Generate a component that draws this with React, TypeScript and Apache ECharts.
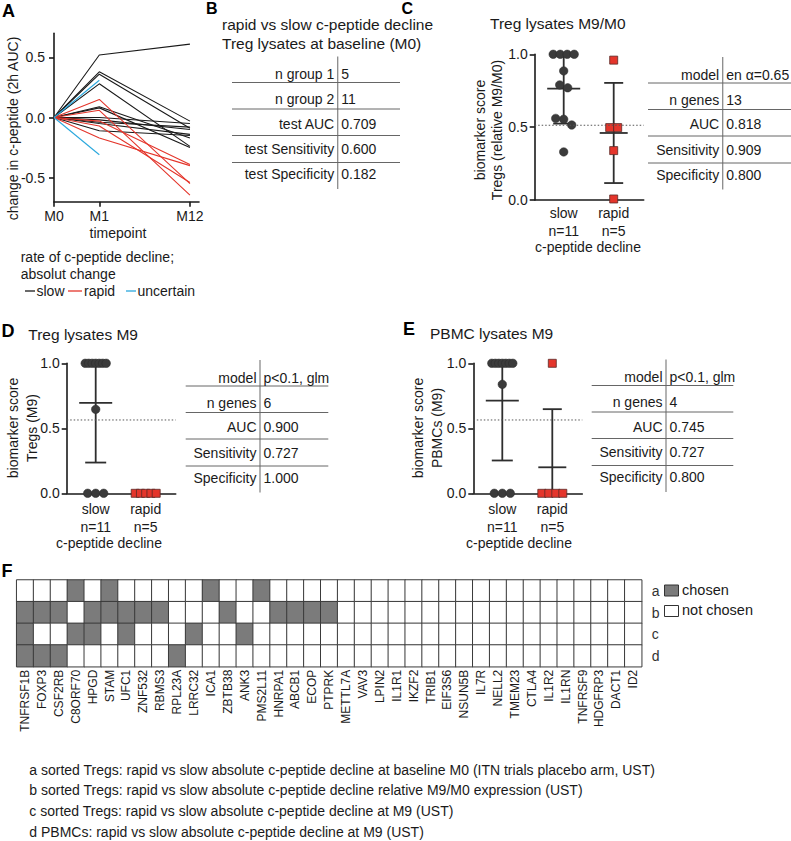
import React, { useEffect, useRef } from 'react';
import * as echarts from 'echarts';

const FONT = '"Liberation Sans", Arial, Helvetica, sans-serif';

// ---------- Panel A data ----------
const timepointLabels = ['M0', 'M1', 'M12'];
const timepointPos = [0, 1, 3];
const slowM1 = [0.52, 0.38, 0.36, 0.28, 0.09, 0.08, 0.0, -0.02, -0.04, -0.05, -0.11];
const slowM12 = [0.61, -0.03, -0.09, -0.24, -0.17, -0.25, -0.05, -0.1, -0.08, -0.14, -0.15];
const rapidM1 = [0.15, 0.06, -0.03, -0.07, -0.17];
const rapidM12 = [-0.55, -0.645, -0.39, -0.54, -0.4];
const uncertainM1 = [0.31, -0.31];
const aYTicks = [-0.5, 0, 0.5];

// ---------- Panels C, D, E data ----------
const groupLabels = ['slow\nn=11', 'rapid\nn=5'];
const scoreTicks = [0, 0.5, 1];
const cSlow = [1, 1, 1, 1, 0.886, 0.79, 0.77, 0.56, 0.554, 0.515, 0.33];
const cRapid = [0.96, 0.497, 0.497, 0.339, 0.007];
const cCutoff = 0.513;
const dSlow = [1, 1, 1, 1, 1, 1, 1, 0.646, 0, 0, 0];
const dRapid = [0, 0, 0, 0, 0];
const dCutoff = 0.564;
const eSlow = [1, 1, 1, 1, 1, 1, 1, 0.838, 0, 0, 0];
const eRapid = [1, 0, 0, 0, 0];
const eCutoff = 0.564;

// ---------- Tables ----------
const tableBLabels = ['n group 1', 'n group 2', 'test AUC', 'test Sensitivity', 'test Specificity'];
const tableBValues = ['5', '11', '0.709', '0.600', '0.182'];
const metricLabels = ['model', 'n genes', 'AUC', 'Sensitivity', 'Specificity'];
const tableCValues = ['en α=0.65', '13', '0.818', '0.909', '0.800'];
const tableDValues = ['p<0.1, glm', '6', '0.900', '0.727', '1.000'];
const tableEValues = ['p<0.1, glm', '4', '0.745', '0.727', '0.800'];

// ---------- Panel F data ----------
const genes = ['TNFRSF1B', 'FOXP3', 'CSF2RB', 'C8ORF70', 'HPGD', 'STAM', 'UFC1', 'ZNF532', 'RBMS3', 'RPL23A', 'LRRC32', 'ICA1', 'ZBTB38', 'ANK3', 'PMS2L11', 'HNRPA1', 'ABCB1', 'ECOP', 'PTPRK', 'METTL7A', 'VAV3', 'LPIN2', 'IL1R1', 'IKZF2', 'TRIB1', 'EIF3S6', 'NSUN5B', 'IL7R', 'NELL2', 'TMEM23', 'CTLA4', 'IL1R2', 'IL1RN', 'TNFRSF9', 'HDGFRP3', 'DACT1', 'ID2'];
const rowKeys = ['a', 'b', 'c', 'd'];
const chosenA = ['C8ORF70', 'STAM', 'ICA1', 'PMS2L11'];
const chosenB = ['TNFRSF1B', 'FOXP3', 'CSF2RB', 'HPGD', 'STAM', 'UFC1', 'ZNF532', 'RBMS3', 'ZBTB38', 'HNRPA1', 'ABCB1', 'ECOP', 'PTPRK'];
const chosenC = ['TNFRSF1B', 'C8ORF70', 'HPGD', 'UFC1', 'LRRC32', 'ANK3'];
const chosenD = ['TNFRSF1B', 'FOXP3', 'CSF2RB', 'RPL23A'];
const legendLabels = ['chosen', 'not chosen'];
const rowDescriptions = [
  'a sorted Tregs: rapid vs slow absolute c-peptide decline at baseline M0 (ITN trials placebo arm, UST)',
  'b sorted Tregs: rapid vs slow absolute c-peptide decline relative M9/M0 expression (UST)',
  'c sorted Tregs: rapid vs slow absolute c-peptide decline at M9 (UST)',
  'd PBMCs: rapid vs slow absolute c-peptide decline at M9 (UST)',
];

// ---------- helpers ----------
const INK = '#1a1a1a';
const RED = '#e4352b';
const BLUE = '#2aa8dd';
const GREY_FILL = '#7b7b7b';

function mean(a: number[]) {
  return a.reduce((s, v) => s + v, 0) / a.length;
}
function sd(a: number[]) {
  const m = mean(a);
  return Math.sqrt(a.reduce((s, v) => s + (v - m) * (v - m), 0) / (a.length - 1));
}

// simple beeswarm: cluster overlapping points and spread them symmetrically
function swarm(values: number[], center: number, pxY: number, pxX: number) {
  const D = 8;
  const MAXW = 21;
  const idx = values.map((_, i) => i).sort((a, b) => values[b] - values[a]);
  const out: number[][] = [];
  let i = 0;
  while (i < idx.length) {
    const start = values[idx[i]];
    let j = i;
    while (j + 1 < idx.length && (start - values[idx[j + 1]]) * pxY < D) j++;
    const n = j - i + 1;
    const s = n > 1 ? Math.min(D, MAXW / (n - 1)) : 0;
    for (let k = 0; k < n; k++) {
      out.push([center + ((k - (n - 1) / 2) * s) / pxX, values[idx[i + k]]]);
    }
    i = j + 1;
  }
  return out;
}

function txt(text: string, x: number, y: number, o: any = {}) {
  return {
    type: 'text',
    x,
    y,
    rotation: o.rot || 0,
    silent: true,
    style: {
      text,
      x: 0,
      y: 0,
      fontSize: o.size || 14,
      fontFamily: FONT,
      fontWeight: o.weight || 'normal',
      fill: o.color || INK,
      align: o.align || 'left',
      textAlign: o.align || 'left',
      verticalAlign: 'middle',
      textVerticalAlign: 'middle',
    },
  };
}
function ln(x1: number, y1: number, x2: number, y2: number, color: string, w = 1) {
  return { type: 'line', silent: true, shape: { x1, y1, x2, y2 }, style: { stroke: color, lineWidth: w } };
}

function table(labels: string[], values: string[], x0: number, x1: number, xv: number, top: number) {
  const els: any[] = [];
  const lineOff = [26, 52.5, 79, 106];
  const textOff = [17.7, 42.5, 67, 92.7, 117.5];
  els.push(ln(xv, top, xv, top + 132.5, '#8a8a8a', 1.3));
  lineOff.forEach((o) => els.push(ln(x0, top + o, x1, top + o, '#666', 1)));
  labels.forEach((l, i) => {
    els.push(txt(l, xv - 3.5, top + textOff[i], { align: 'right' }));
    els.push(txt(values[i], xv + 3.5, top + textOff[i], { align: 'left' }));
  });
  return els;
}

function buildOption() {
  const grids: any[] = [
    { left: 54, top: 33.3, width: 145, height: 168.4 }, // A
    { left: 534.7, top: 54.3, width: 109, height: 145.7 }, // C
    { left: 66.7, top: 363.3, width: 109, height: 130 }, // D
    { left: 473.3, top: 363.3, width: 109, height: 130 }, // E
    { left: 16.7, top: 580, width: 625, height: 86.7 }, // F
  ].map((g) => ({ ...g, containLabel: false, outerBoundsMode: 'none' }));

  const axisLineStyle = { color: INK, width: 1.6 };
  const labelBase = { fontSize: 14, fontFamily: FONT, color: INK };

  const xAxes: any[] = [];
  const yAxes: any[] = [];

  // Panel A axes
  xAxes.push({
    gridIndex: 0,
    type: 'value',
    min: 0,
    max: 3.2,
    axisLine: { show: true, onZero: false, lineStyle: axisLineStyle },
    axisTick: { show: true, customValues: timepointPos, length: 5, lineStyle: axisLineStyle },
    axisLabel: {
      ...labelBase,
      customValues: timepointPos,
      margin: 7,
      formatter: (v: number) => timepointLabels[timepointPos.indexOf(v)] ?? '',
    },
    splitLine: { show: false },
  });
  yAxes.push({
    gridIndex: 0,
    type: 'value',
    min: -0.7,
    max: 0.7,
    axisLine: { show: true, onZero: false, lineStyle: axisLineStyle },
    axisTick: { show: true, customValues: aYTicks, length: 5, lineStyle: axisLineStyle },
    axisLabel: { ...labelBase, customValues: aYTicks, margin: 9, formatter: (v: number) => v.toFixed(1) },
    splitLine: { show: false },
  });

  // Panels C, D, E axes
  for (let g = 1; g <= 3; g++) {
    xAxes.push({
      gridIndex: g,
      type: 'value',
      min: 0.42,
      max: 2.6,
      axisLine: { show: true, onZero: false, lineStyle: axisLineStyle },
      axisTick: { show: false },
      axisLabel: {
        ...labelBase,
        customValues: [1, 2],
        margin: g === 1 ? 4 : 7,
        lineHeight: 18,
        formatter: (v: number) => groupLabels[Math.round(v) - 1] ?? '',
      },
      splitLine: { show: false },
    });
    yAxes.push({
      gridIndex: g,
      type: 'value',
      min: 0,
      max: 1,
      axisLine: { show: true, onZero: false, lineStyle: axisLineStyle },
      axisTick: { show: true, customValues: scoreTicks, length: 5, lineStyle: axisLineStyle },
      axisLabel: { ...labelBase, customValues: scoreTicks, margin: 7, formatter: (v: number) => v.toFixed(1) },
      splitLine: { show: false },
    });
  }

  // Panel F axes
  xAxes.push({
    gridIndex: 4,
    type: 'category',
    data: genes,
    axisLine: { show: false },
    axisTick: { show: false },
    axisLabel: { fontSize: 12, fontFamily: FONT, color: INK, rotate: 90, interval: 0, margin: 3 },
    splitLine: { show: false },
  });
  yAxes.push({
    gridIndex: 4,
    type: 'category',
    data: rowKeys,
    inverse: true,
    position: 'right',
    axisLine: { show: false },
    axisTick: { show: false },
    axisLabel: { fontSize: 14, fontFamily: FONT, color: '#333', margin: 10 },
    splitLine: { show: false },
  });

  const series: any[] = [];

  // Panel A lines
  const addLine = (name: string, color: string, pts: number[][]) =>
    series.push({
      type: 'line',
      name,
      xAxisIndex: 0,
      yAxisIndex: 0,
      data: pts,
      symbol: 'none',
      silent: true,
      lineStyle: { color, width: 1.1 },
      itemStyle: { color },
    });
  slowM1.forEach((m1, i) => addLine('slow', INK, [[0, 0], [1, m1], [3, slowM12[i]]]));
  rapidM1.forEach((m1, i) => addLine('rapid', RED, [[0, 0], [1, m1], [3, rapidM12[i]]]));
  uncertainM1.forEach((m1) => addLine('uncertain', BLUE, [[0, 0], [1, m1]]));

  // Scatter panels
  const panels = [
    { g: 1, slow: cSlow, rapid: cRapid, cut: cCutoff, pxY: 145.7 },
    { g: 2, slow: dSlow, rapid: dRapid, cut: dCutoff, pxY: 130 },
    { g: 3, slow: eSlow, rapid: eRapid, cut: eCutoff, pxY: 130 },
  ];
  panels.forEach((p) => {
    series.push({
      type: 'line',
      xAxisIndex: p.g,
      yAxisIndex: p.g,
      data: [[0.42, p.cut], [2.6, p.cut]],
      symbol: 'none',
      silent: true,
      lineStyle: { color: '#555', width: 1, type: [1.5, 2] },
    });
    series.push({
      type: 'custom',
      xAxisIndex: p.g,
      yAxisIndex: p.g,
      silent: true,
      data: [
        [1, mean(p.slow), sd(p.slow)],
        [2, mean(p.rapid), sd(p.rapid)],
      ],
      renderItem: (params: any, api: any) => {
        const x = api.value(0);
        const m = api.value(1);
        const s = api.value(2);
        const hw = x === 1 ? 16.5 : 14;
        const cw = x === 1 ? 10.5 : 9.5;
        const lo = Math.max(0, m - s);
        const hi = Math.min(1, m + s);
        const pm = api.coord([x, m]);
        const pl = api.coord([x, lo]);
        const ph = api.coord([x, hi]);
        const st = { stroke: '#2e2e2e', lineWidth: 1.8 };
        const children: any[] = [
          { type: 'line', shape: { x1: pm[0] - hw, y1: pm[1], x2: pm[0] + hw, y2: pm[1] }, style: st },
        ];
        if (s > 0) {
          children.push({ type: 'line', shape: { x1: pm[0], y1: ph[1], x2: pm[0], y2: pl[1] }, style: st });
          if (m + s <= 1) children.push({ type: 'line', shape: { x1: pm[0] - cw, y1: ph[1], x2: pm[0] + cw, y2: ph[1] }, style: st });
          if (m - s >= 0) children.push({ type: 'line', shape: { x1: pm[0] - cw, y1: pl[1], x2: pm[0] + cw, y2: pl[1] }, style: st });
        }
        return { type: 'group', children };
      },
    });
    series.push({
      type: 'scatter',
      xAxisIndex: p.g,
      yAxisIndex: p.g,
      silent: true,
      data: swarm(p.slow, 1, p.pxY, 50),
      symbol: 'circle',
      symbolSize: 8.5,
      itemStyle: { color: '#3b3b3b', borderColor: '#2a2a2a', borderWidth: 0.5, opacity: 1 },
    });
    series.push({
      type: 'scatter',
      xAxisIndex: p.g,
      yAxisIndex: p.g,
      silent: true,
      data: swarm(p.rapid, 2, p.pxY, 50),
      symbol: 'rect',
      symbolSize: 8,
      itemStyle: { color: RED, borderColor: '#5a2a26', borderWidth: 0.8, opacity: 1 },
    });
  });

  // Heatmap
  const chosenRows = [chosenA, chosenB, chosenC, chosenD];
  const heatData: number[][] = [];
  genes.forEach((gname, gi) => {
    chosenRows.forEach((row, ri) => heatData.push([gi, ri, row.includes(gname) ? 1 : 0]));
  });
  const heatIndex = series.length;
  series.push({
    type: 'heatmap',
    xAxisIndex: 4,
    yAxisIndex: 4,
    data: heatData,
    silent: true,
    emphasis: { disabled: true },
    itemStyle: { borderColor: '#3a3a3a', borderWidth: 1 },
  });

  // Graphics
  const gfx: any[] = [];
  // panel letters
  gfx.push(txt('A', 2, 10.5, { size: 18, weight: 'bold', color: '#000' }));
  gfx.push(txt('B', 206, 8.5, { size: 16, weight: 'bold', color: '#000' }));
  gfx.push(txt('C', 401.5, 8.2, { size: 16, weight: 'bold', color: '#000' }));
  gfx.push(txt('D', 1.5, 331, { size: 18, weight: 'bold', color: '#000' }));
  gfx.push(txt('E', 403, 328.5, { size: 18, weight: 'bold', color: '#000' }));
  gfx.push(txt('F', 1.5, 570.5, { size: 18, weight: 'bold', color: '#000' }));

  // Panel A texts
  gfx.push(txt('change in c-peptide (2h AUC)', 13, 128.5, { rot: Math.PI / 2, align: 'center' }));
  gfx.push(txt('timepoint', 118, 233, { align: 'center' }));
  gfx.push(txt('rate of c-peptide decline;', 20.7, 257));
  gfx.push(txt('absolut change', 20.7, 274));
  gfx.push(ln(25, 291, 35, 291, INK, 1.3));
  gfx.push(txt('slow', 36.5, 291));
  gfx.push(ln(68, 291, 82, 291, RED, 1.3));
  gfx.push(txt('rapid', 84, 291));
  gfx.push(ln(126, 291, 136, 291, BLUE, 1.3));
  gfx.push(txt('uncertain', 137.5, 291));

  // Panel B
  gfx.push(txt('rapid vs slow c-peptide decline', 222, 24, { size: 15.5 }));
  gfx.push(txt('Treg lysates at baseline (M0)', 222, 43, { size: 15.5 }));
  gfx.push(...table(tableBLabels, tableBValues, 232, 400, 337.7, 56.5));

  // Panel C
  gfx.push(txt('Treg lysates M9/M0', 490, 23.5, { size: 15.5 }));
  gfx.push(txt('biomarker score', 480, 130, { rot: Math.PI / 2, align: 'center' }));
  gfx.push(txt('Tregs (relative M9/M0)', 497, 130, { rot: Math.PI / 2, align: 'center' }));
  gfx.push(txt('c-peptide decline', 588, 246.7, { align: 'center' }));
  gfx.push(...table(metricLabels, tableCValues, 648, 791, 722.7, 57));

  // Panel D
  gfx.push(txt('Treg lysates M9', 28.3, 334, { size: 15.5 }));
  gfx.push(txt('biomarker score', 13, 428, { rot: Math.PI / 2, align: 'center' }));
  gfx.push(txt('Tregs (M9)', 32, 428, { rot: Math.PI / 2, align: 'center' }));
  gfx.push(txt('c-peptide decline', 109, 543.3, { align: 'center' }));
  gfx.push(...table(metricLabels, tableDValues, 185.7, 328.3, 260, 360));

  // Panel E
  gfx.push(txt('PBMC lysates M9', 430, 333.5, { size: 15.5 }));
  gfx.push(txt('biomarker score', 418, 428, { rot: Math.PI / 2, align: 'center' }));
  gfx.push(txt('PBMCs (M9)', 437, 428, { rot: Math.PI / 2, align: 'center' }));
  gfx.push(txt('c-peptide decline', 519, 543.3, { align: 'center' }));
  gfx.push(...table(metricLabels, tableEValues, 591.7, 733.3, 666, 359.5));

  // Panel F legend
  gfx.push({ type: 'rect', silent: true, shape: { x: 664.5, y: 585, width: 14, height: 11 }, style: { fill: GREY_FILL, stroke: '#333', lineWidth: 1 } });
  gfx.push(txt(legendLabels[0], 682, 590, { size: 14.5 }));
  gfx.push({ type: 'rect', silent: true, shape: { x: 664.5, y: 605.5, width: 14, height: 11 }, style: { fill: '#fff', stroke: '#333', lineWidth: 1 } });
  gfx.push(txt(legendLabels[1], 682, 610, { size: 14.5 }));

  // Panel F descriptions
  const descY = [769.5, 790, 811, 832];
  rowDescriptions.forEach((d, i) => gfx.push(txt(d, 29.3, descY[i])));

  return {
    animation: false,
    backgroundColor: '#ffffff',
    textStyle: { fontFamily: FONT },
    grid: grids,
    xAxis: xAxes,
    yAxis: yAxes,
    visualMap: [
      {
        type: 'piecewise',
        show: false,
        seriesIndex: heatIndex,
        dimension: 2,
        pieces: [
          { value: 1, color: GREY_FILL },
          { value: 0, color: '#ffffff' },
        ],
      },
    ],
    series,
    graphic: { elements: gfx },
  };
}

export default function App() {
  const ref = useRef<HTMLDivElement>(null);
  useEffect(() => {
    if (!ref.current) return;
    const chart = echarts.init(ref.current, null, { renderer: 'svg' });
    chart.setOption(buildOption() as any);
    return () => chart.dispose();
  }, []);
  return (
    <div
      ref={ref}
      style={{ position: 'fixed', left: 0, top: 0, width: 791, height: 841, background: '#fff' }}
    />
  );
}
